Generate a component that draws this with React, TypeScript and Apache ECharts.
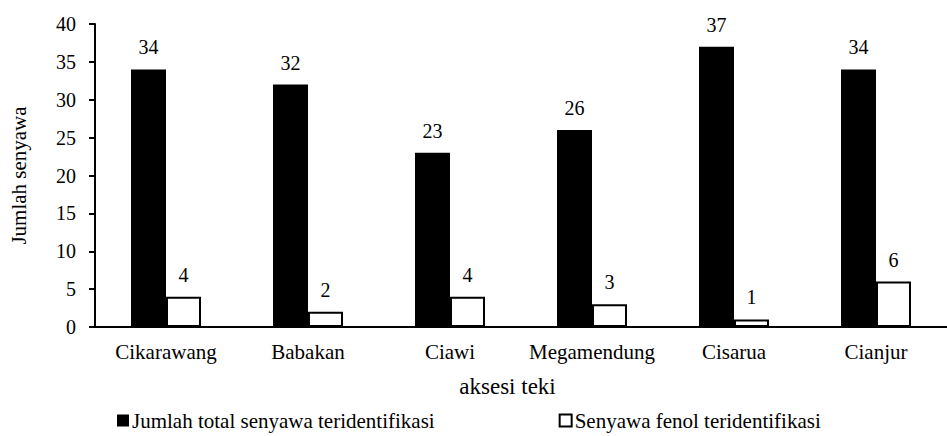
import React, { useEffect, useRef } from "react";
import * as echarts from "echarts";

const categories = ["Cikarawang", "Babakan", "Ciawi", "Megamendung", "Cisarua", "Cianjur"];
const totalSenyawa = [34, 32, 23, 26, 37, 34];
const fenolSenyawa = [4, 2, 4, 3, 1, 6];
const seriesNames = ["Jumlah total senyawa teridentifikasi", "Senyawa fenol teridentifikasi"];
const yAxisName = "Jumlah senyawa";
const xAxisName = "aksesi teki";

const FONT = "Liberation Serif, Times New Roman, Times, serif";

export default function App() {
  const ref = useRef<HTMLDivElement>(null);
  useEffect(() => {
    if (!ref.current) return;
    const chart = echarts.init(ref.current, undefined, { renderer: "svg" });
    chart.setOption({
      animation: false,
      textStyle: { fontFamily: FONT, color: "#000" },
      grid: { left: 93, right: -13.6, top: 24, bottom: 109, containLabel: false },
      legend: {
        top: 405,
        left: 112,
        itemGap: 124,
        itemWidth: 12,
        itemHeight: 12,
        textStyle: { fontFamily: FONT, fontSize: 21, color: "#000", padding: [0, 0, 0, -2] },
        data: [
          { name: seriesNames[0], icon: "rect", itemStyle: { color: "#000", borderWidth: 0 } },
          { name: seriesNames[1], icon: "rect", itemStyle: { color: "#fff", borderColor: "#000", borderWidth: 2 } },
        ],
      },
      graphic: [
        {
          type: "text",
          x: 507.5,
          y: 386,
          style: {
            text: xAxisName,
            fontFamily: FONT,
            fontSize: 23,
            fill: "#000",
            align: "center",
            verticalAlign: "middle",
          },
        },
      ],
      xAxis: {
        type: "category",
        data: categories,
        axisLine: { lineStyle: { color: "#000", width: 2 } },
        axisTick: { show: false },
        axisLabel: { fontFamily: FONT, fontSize: 21, color: "#000", margin: 14, interval: 0 },
      },
      yAxis: {
        type: "value",
        min: 0,
        max: 40,
        interval: 5,
        name: yAxisName,
        nameLocation: "middle",
        nameGap: 66,
        nameTextStyle: { fontFamily: FONT, fontSize: 21, color: "#000" },
        axisLine: { show: true, lineStyle: { color: "#000", width: 2 } },
        axisTick: { show: true, length: 6, lineStyle: { color: "#000", width: 2 } },
        splitLine: { show: false },
        axisLabel: { fontFamily: FONT, fontSize: 20, color: "#000", margin: 19 },
      },
      series: [
        {
          name: seriesNames[0],
          type: "bar",
          data: totalSenyawa,
          barWidth: 35,
          barGap: "0%",
          itemStyle: { color: "#000" },
          label: { show: true, position: "top", distance: 12, fontFamily: FONT, fontSize: 20, color: "#000" },
        },
        {
          name: seriesNames[1],
          type: "bar",
          data: fenolSenyawa,
          barWidth: 35,
          barGap: "0%",
          itemStyle: { color: "#fff", borderColor: "#000", borderWidth: 2 },
          label: { show: true, position: "top", distance: 12, fontFamily: FONT, fontSize: 20, color: "#000" },
        },
      ],
    });
    return () => chart.dispose();
  }, []);
  return (
    <div
      ref={ref}
      style={{ position: "absolute", left: 0, top: 0, width: 947, height: 436, background: "#fff" }}
    />
  );
}
